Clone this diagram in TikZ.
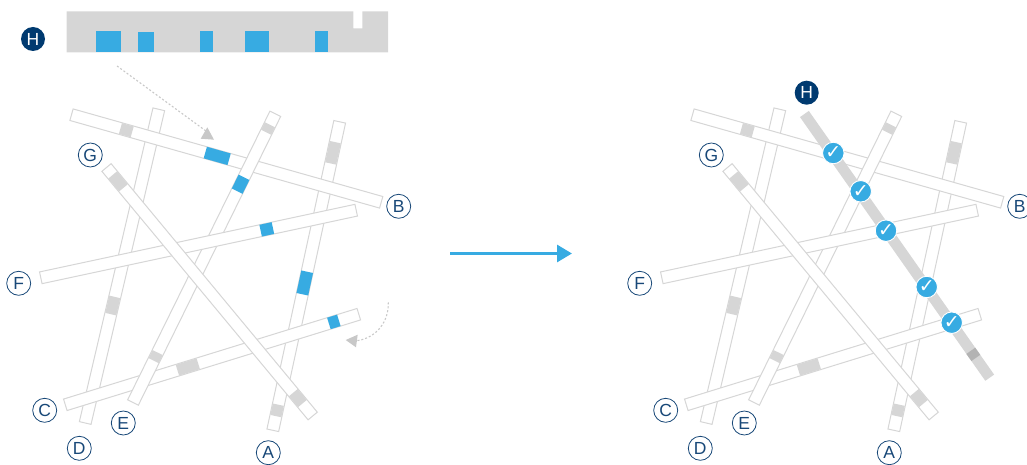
\documentclass[tikz,border=0pt]{standalone}
\usepackage{fontspec}
\setmainfont{Liberation Sans}
\newfontfamily\checkfont{DejaVu Sans}
\usetikzlibrary{arrows.meta, calc}
\definecolor{railgray}{RGB}{214, 214, 214}
\definecolor{markgray}{RGB}{179, 179, 179}
\definecolor{tipgray}{RGB}{200, 200, 200}
\definecolor{skyblue}{RGB}{55, 171, 226}
\definecolor{deepnavy}{RGB}{0, 58, 112}
\definecolor{labelnavy}{RGB}{24, 72, 120}

% band along (#1)--(#2), from fraction #3 to #4, half width #5, look #6
\newcommand{\band}[6]{
  \coordinate (p) at ($#1!#3!#2$);
  \coordinate (q) at ($#1!#4!#2$);
  \path[#6] ($(p)!#5!90:(q)$) -- ($(p)!#5!-90:(q)$) -- ($(q)!#5!90:(p)$) -- ($(q)!#5!-90:(p)$) -- cycle;
}

% the seven bars with their gray patches and letters
\newcommand{\barset}{
  % D
  \band{(158.8,109.3)}{(85.2,423)}{0}{1}{6pt}{bar}
  \band{(158.8,109.3)}{(85.2,423)}{.598}{.653}{5.6pt}{patch}
  % A
  \band{(339.7,121.8)}{(272.8,430.3)}{0}{1}{6pt}{bar}
  \band{(339.7,121.8)}{(272.8,430.3)}{.066}{.135}{5.6pt}{patch}
  \band{(339.7,121.8)}{(272.8,430.3)}{.917}{.954}{5.6pt}{patch}
  % B
  \band{(71.5,114.7)}{(381.2,202.3)}{0}{1}{6pt}{bar}
  \band{(71.5,114.7)}{(381.2,202.3)}{.158}{.196}{5.6pt}{patch}
  % C
  \band{(65.3,404.8)}{(358.8,314.2)}{0}{1}{6pt}{bar}
  \band{(65.3,404.8)}{(358.8,314.2)}{.382}{.453}{5.6pt}{patch}
  % E
  \band{(275.3,113.8)}{(133,402.5)}{0}{1}{6pt}{bar}
  \band{(275.3,113.8)}{(133,402.5)}{.038}{.064}{5.6pt}{patch}
  \band{(275.3,113.8)}{(133,402.5)}{.827}{.855}{5.6pt}{patch}
  % F
  \band{(40.8,277.8)}{(356.2,210.2)}{0}{1}{6pt}{bar}
  % G
  \band{(106.5,167.5)}{(312.7,416)}{0}{1}{6pt}{bar}
  \band{(106.5,167.5)}{(312.7,416)}{.03}{.082}{5.6pt}{patch}
  \band{(106.5,167.5)}{(312.7,416)}{.906}{.95}{5.6pt}{patch}
  % Letters
  \foreach \lname/\lx/\ly in {G/90.3/155, B/398.7/206.3, F/18.7/283.3, C/44.7/410.3, E/123.3/423, D/79.3/448.3, A/268.3/452.7}
    \node[letter] (lbl\lname) at (\lx,\ly) {\lname};
}

\begin{document}
\begin{tikzpicture}[
    x=1pt, y=-1pt,
    bar/.style={draw=railgray, fill=white, line width=1pt, line join=miter},
    patch/.style={fill=railgray},
    bluepatch/.style={fill=skyblue},
    letter/.style={circle, draw=labelnavy, fill=white, line width=0.8pt, minimum size=24pt, inner sep=0pt, font=\fontsize{17.5}{17.5}\selectfont, text=labelnavy},
    track/.style={circle, fill=deepnavy, minimum size=24pt, inner sep=0pt, font=\fontsize{17.5}{17.5}\selectfont, text=white},
    okmark/.style={circle, fill=skyblue, draw=white, line width=0.9pt, minimum size=21.5pt, inner sep=0pt, font=\checkfont\fontsize{19}{19}\selectfont, text=white},
    flow/.style={-{Triangle[length=15pt, width=17pt]}, line width=3pt, skyblue},
    hint/.style={tipgray, line width=1.1pt, dash pattern=on 2pt off 2pt},
    hinthead/.style={fill=tipgray}
]
\useasboundingbox (0,0) rectangle (1027,465);

% ── Left: track plan and bars ──
\fill[railgray] (66.7,11.3) -- (353.3,11.3) -- (353.3,28.3) -- (362.3,28.3) -- (362.3,11.3) -- (388,11.3) -- (388,52.3) -- (66.7,52.3) -- cycle;
\fill[bluepatch] (96.3,31) rectangle (120.7,52.3);
\fill[bluepatch] (138,32) rectangle (154,52.3);
\fill[bluepatch] (200,31) rectangle (213,52.3);
\fill[bluepatch] (245,31) rectangle (269,52.3);
\fill[bluepatch] (315,31) rectangle (328,52.3);
\node[track] (trackL) at (33,39) {H};

\begin{scope}[name prefix=l-]
  \barset
  % Blue patches
  \band{(71.5,114.7)}{(381.2,202.3)}{.432}{.509}{6pt}{bluepatch}
  \band{(339.7,121.8)}{(272.8,430.3)}{.486}{.559}{6pt}{bluepatch}
  \band{(275.3,113.8)}{(133,402.5)}{.22}{.268}{6pt}{bluepatch}
  \band{(40.8,277.8)}{(356.2,210.2)}{.697}{.736}{6pt}{bluepatch}
  \band{(65.3,404.8)}{(358.8,314.2)}{.898}{.932}{6pt}{bluepatch}
\end{scope}

% Dotted hints
\coordinate (hintA) at (117,66);
\coordinate (hintB) at (206,131);
\draw[hint] (hintA) -- (hintB);
\fill[hinthead] (207.3,127.3) -- (214,139.7) -- (200.7,138.7) -- cycle;
\coordinate (hintC) at (388.3,302.3);
\coordinate (hintD) at (357,340.7);
\draw[hint] (hintC) .. controls (389,322) and (376,338) .. (hintD);
\fill[hinthead] (357.7,334.7) -- (356,347.3) -- (345.7,340) -- cycle;

% ── Middle arrow ──
\coordinate (flowA) at (450,253.5);
\coordinate (flowB) at (572,253.5);
\draw[flow] (flowA) -- (flowB);

% ── Right: bars with track laid over ──
\begin{scope}[shift={(621,0)}, name prefix=r-]
  \barset
\end{scope}

\band{(804.4,114)}{(989.7,377.7)}{0}{1}{5.4pt}{patch}
\band{(804.4,114)}{(989.7,377.7)}{.898}{.925}{5.4pt}{fill=markgray}
\node[track] (trackR) at (806.7,92.7) {H};

\foreach \okname/\okx/\oky in {a/833.3/153, b/860.7/191.3, c/886/230.7, d/926.7/287, e/951.7/322.7}
  \node[okmark] (ok\okname) at (\okx,\oky) {✓};

\end{tikzpicture}
\end{document}
